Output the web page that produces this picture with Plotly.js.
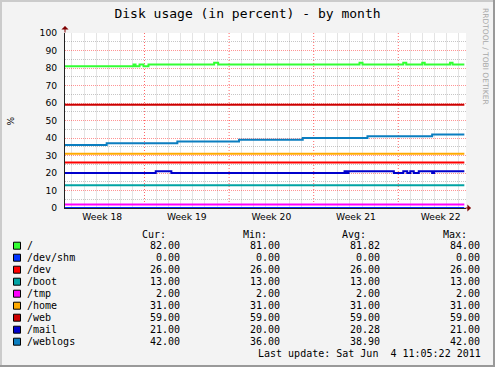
<!DOCTYPE html>
<html>
<head>
<meta charset="utf-8">
<script src="https://cdn.plot.ly/plotly-3.0.1.min.js"></script>
<style>
html,body{margin:0;padding:0;background:#F3F3F3;}
#chart{width:495px;height:367px;}
</style>
</head>
<body>
<div id="chart"></div>
<script>
// ---------- data ----------
const rangeStart = '2011-05-02 10:10';
const rangeEnd = '2011-06-04 14:24';
const lastUpdate = '2011-06-04 11:05';

const weekStarts = ['2011-05-02', '2011-05-09', '2011-05-16', '2011-05-23', '2011-05-30'];
const weekLabels = ['Week 18', 'Week 19', 'Week 20', 'Week 21', 'Week 22'];

const names = ['/', '/dev/shm', '/dev', '/boot', '/tmp', '/home', '/web', '/mail', '/weblogs'];
const colors = ['#33FF33', '#0033FF', '#FF0000', '#00A3A3', '#FF00FF', '#FFAA00', '#CC0000', '#0000CC', '#0B7EC0'];

const rootTimes = [rangeStart, '2011-05-08 02:15', '2011-05-08 06:15', '2011-05-08 14:10', '2011-05-08 22:00',
  '2011-05-09 07:55', '2011-05-14 18:20', '2011-05-15 02:15', '2011-05-26 19:00', '2011-05-27 00:55',
  '2011-05-30 09:50', '2011-05-30 15:45', '2011-05-31 23:30', '2011-06-01 04:25', '2011-06-03 06:45',
  '2011-06-03 11:40', lastUpdate];
const rootVals = [81, 82, 81, 82, 81, 82, 83, 82, 83, 82, 83, 82, 83, 82, 83, 82, 82];

const devshmVals = [0, 0];
const devVals = [26, 26];
const bootVals = [13, 13];
const tmpVals = [2, 2];
const homeVals = [31, 31];
const webVals = [59, 59];

const mailTimes = [rangeStart, '2011-05-09 22:20', '2011-05-11 05:20', '2011-05-25 13:15', '2011-05-25 17:15',
  '2011-05-25 21:10', '2011-05-29 15:10', '2011-05-30 09:50', '2011-05-30 17:45', '2011-05-30 23:45',
  '2011-05-31 06:40', '2011-05-31 16:35', '2011-06-01 19:10', '2011-06-01 23:05', lastUpdate];
const mailVals = [20, 21, 20, 21, 20, 21, 20, 21, 20, 21, 20, 21, 20, 21, 21];

const weblogsTimes = [rangeStart, '2011-05-05 20:54', '2011-05-11 17:14', '2011-05-16 19:45',
  '2011-05-22 02:15', '2011-05-27 10:44', '2011-06-01 19:12', lastUpdate];
const weblogsVals = [36, 37, 38, 39, 40, 41, 42, 42];

const curVals = [82, 0, 26, 13, 2, 31, 59, 21, 42];
const minVals = [81, 0, 26, 13, 2, 31, 59, 20, 36];
const avgVals = [81.82, 0, 26, 13, 2, 31, 59, 20.28, 38.90];
const maxVals = [84, 0, 26, 13, 2, 31, 59, 21, 42];

const titleText = 'Disk usage (in percent) - by month';
const yLabel = '%';
const watermark = 'RRDTOOL / TOBI OETIKER';
const lastUpdateText = 'Last update: Sat Jun\u00A0 4 11:05:22 2011';

// ---------- build ----------
const flat = [rangeStart, lastUpdate];
const seriesX = [rootTimes, flat, flat, flat, flat, flat, flat, mailTimes, weblogsTimes];
const seriesY = [rootVals, devshmVals, devVals, bootVals, tmpVals, homeVals, webVals, mailVals, weblogsVals];

const traces = names.map((n, i) => ({
  type: 'scatter', mode: 'lines', name: n,
  x: seriesX[i], y: seriesY[i],
  line: {color: colors[i], width: 2, shape: 'hv'},
  hoverinfo: 'skip'
}));

const W = 495, H = 367, L = 65, R = 29, T = 33, B = 159;
const PW = W - L - R, PH = H - T - B;
const fx = p => (p - L) / PW;
const fy = p => (H - B - p) / PH;

const DAY = 86400000;
const toMs = s => new Date(s.replace(' ', 'T') + (s.length <= 10 ? 'T00:00:00Z' : ':00Z')).getTime();
const weekMids = weekStarts.map(s => toMs(s) + 3.5 * DAY);
const weekMs = weekStarts.map(toMs);
const dayLines = [];
for (let t = toMs(weekStarts[0]); t <= toMs(rangeEnd); t += DAY) {
  if (!weekMs.includes(t)) dayLines.push(t);
}

const mono = 'DejaVu Sans Mono, monospace';
const sans = 'DejaVu Sans, sans-serif';

const majorGrid = 'rgba(255,0,0,0.42)';
const minorGrid = 'rgba(128,128,128,0.45)';

const annotations = [];
const shapes = [];

// week boundary (major) grid lines placed through the axis scales
weekStarts.slice(1).forEach(s => {
  shapes.push({type: 'line', xref: 'x', yref: 'y', x0: s, x1: s, y0: 0, y1: 100, layer: 'between',
    line: {color: 'rgba(255,0,0,0.6)', width: 1, dash: '1px,2px'}});
});

// legend table
[['Cur:', 166], ['Min:', 267], ['Avg:', 366], ['Max:', 467]].forEach(([t, x]) => {
  annotations.push({xref: 'paper', yref: 'paper', x: fx(x), y: fy(234), xanchor: 'right', yanchor: 'middle',
    text: t, showarrow: false, borderpad: 0, borderwidth: 0, font: {family: mono, size: 10, color: '#000'}});
});
const colsX = [180, 280, 380, 480];
names.forEach((n, i) => {
  const yc = 245.7 + 12 * i;
  shapes.push({type: 'rect', xref: 'paper', yref: 'paper', x0: fx(13.5), x1: fx(20.5), y0: fy(yc - 3.5), y1: fy(yc + 3.5),
    fillcolor: colors[i], line: {color: '#000', width: 1}});
  annotations.push({xref: 'paper', yref: 'paper', x: fx(27), y: fy(yc), xanchor: 'left', yanchor: 'middle',
    text: n, showarrow: false, borderpad: 0, borderwidth: 0, font: {family: mono, size: 10, color: '#000'}});
  [curVals, minVals, avgVals, maxVals].forEach((arr, c) => {
    annotations.push({xref: 'paper', yref: 'paper', x: fx(colsX[c]), y: fy(yc), xanchor: 'right', yanchor: 'middle',
      text: arr[i].toFixed(2), showarrow: false, borderpad: 0, borderwidth: 0, font: {family: mono, size: 10, color: '#000'}});
  });
});
annotations.push({xref: 'paper', yref: 'paper', x: fx(481), y: fy(353.7), xanchor: 'right', yanchor: 'middle',
  text: lastUpdateText, showarrow: false, borderpad: 0, borderwidth: 0, font: {family: mono, size: 10, color: '#000'}});

// y label and watermark
annotations.push({xref: 'paper', yref: 'paper', x: fx(10.5), y: fy(121), xanchor: 'center', yanchor: 'middle',
  text: yLabel, textangle: -90, showarrow: false, borderpad: 0, borderwidth: 0, font: {family: sans, size: 9, color: '#000'}});
annotations.push({xref: 'paper', yref: 'paper', x: fx(486), y: fy(56), xanchor: 'center', yanchor: 'middle',
  text: watermark, textangle: 90, showarrow: false, borderpad: 0, borderwidth: 0, font: {family: sans, size: 7.5, color: '#A8A8A8'}});

// axis arrows
annotations.push({xref: 'paper', yref: 'paper', x: fx(65), y: fy(26), ax: 0, ay: 8, text: '', showarrow: true,
  arrowhead: 1, arrowsize: 1.2, arrowwidth: 1, arrowcolor: '#7F0000'});
annotations.push({xref: 'paper', yref: 'paper', x: fx(471), y: fy(208), ax: -7, ay: 0, text: '', showarrow: true,
  arrowhead: 1, arrowsize: 1.2, arrowwidth: 1, arrowcolor: '#7F0000'});

// frame shading
shapes.push({type: 'rect', xref: 'paper', yref: 'paper', x0: fx(0), x1: fx(W), y0: fy(2), y1: fy(0), fillcolor: '#CBCBCB', line: {width: 0}});
shapes.push({type: 'rect', xref: 'paper', yref: 'paper', x0: fx(0), x1: fx(2), y0: fy(H), y1: fy(0), fillcolor: '#CBCBCB', line: {width: 0}});
shapes.push({type: 'rect', xref: 'paper', yref: 'paper', x0: fx(0), x1: fx(W), y0: fy(H), y1: fy(H - 2), fillcolor: '#999999', line: {width: 0}});
shapes.push({type: 'rect', xref: 'paper', yref: 'paper', x0: fx(W - 2), x1: fx(W), y0: fy(H), y1: fy(0), fillcolor: '#999999', line: {width: 0}});

const layout = {
  width: W, height: H, autosize: false,
  margin: {l: L, r: R, t: T, b: B, pad: 0},
  paper_bgcolor: '#F3F3F3', plot_bgcolor: '#FFFFFF',
  showlegend: false,
  title: {text: titleText, xref: 'container', x: 0.5, xanchor: 'center', yref: 'container', y: 1 - 13.5 / H, yanchor: 'middle',
    font: {family: mono, size: 13, color: '#000'}},
  xaxis: {type: 'date', range: [rangeStart, rangeEnd], fixedrange: true,
    tickmode: 'array', tickvals: weekMids, ticktext: weekLabels, ticks: '',
    tickfont: {family: sans, size: 9.2, color: '#000'},
    showgrid: false,
    minor: {tickmode: 'array', tickvals: dayLines, showgrid: true, gridcolor: '#E4E4E4', gridwidth: 1, ticks: ''},
    showline: true, linecolor: '#202020', linewidth: 1, zeroline: false},
  yaxis: {range: [0, 100], fixedrange: true, tickmode: 'linear', tick0: 0, dtick: 10,
    showgrid: true, gridcolor: majorGrid, gridwidth: 1, griddash: '1px,1px',
    minor: {dtick: 5, showgrid: true, gridcolor: minorGrid, gridwidth: 1, griddash: '1px,1px', ticks: ''},
    showline: true, linecolor: '#202020', linewidth: 1, zeroline: false, ticks: '',
    ticklabelstandoff: 5,
    tickfont: {family: sans, size: 9.2, color: '#000'}},
  annotations: annotations,
  shapes: shapes
};

Plotly.newPlot('chart', traces, layout, {displayModeBar: false, staticPlot: true});
</script>
</body>
</html>
